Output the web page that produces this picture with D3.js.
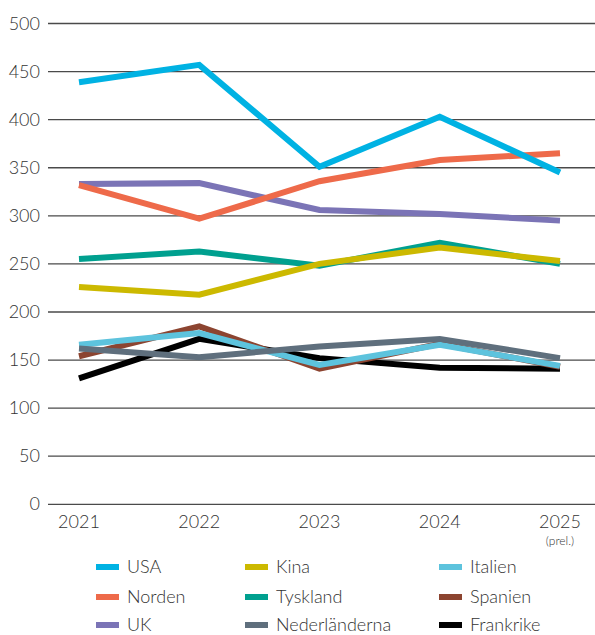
<!DOCTYPE html>
<html>
<head>
<meta charset="utf-8">
<script src="https://cdn.jsdelivr.net/npm/d3@7"></script>
<style>
  body { margin: 0; background: #fff; }
  text { font-family: Lato, "Open Sans", "Liberation Sans", Arial, sans-serif; font-weight: 300; fill: #333; }
</style>
</head>
<body>
<div id="chart"></div>
<script>
// Years on the x axis
var years = ["2021", "2022", "2023", "2024", "2025"];
var yTicks = [0, 50, 100, 150, 200, 250, 300, 350, 400, 450, 500];

// Series values
var usa          = [439, 457, 351, 403, 345];
var norden       = [332, 297, 336, 358, 365];
var uk           = [333, 334, 306, 302, 295];
var kina         = [226, 218, 250, 267, 253];
var tyskland     = [255, 263, 248, 272, 250];
var nederlanderna= [162, 153, 164, 172, 152];
var italien      = [166, 178, 145, 166, 144];
var spanien      = [154, 185, 141, 167, 143];
var frankrike    = [131, 172, 152, 142, 141];

var names  = ["USA", "Norden", "UK", "Kina", "Tyskland", "Nederländerna", "Italien", "Spanien", "Frankrike"];
var values = [usa, norden, uk, kina, tyskland, nederlanderna, italien, spanien, frankrike];
var colors = ["#00b2e3", "#ee6a4a", "#7b74b6", "#ccb900", "#00a08f", "#5f6f7d", "#5dc3dd", "#8c4430", "#000000"];

// Order lines are painted in (last on top)
var drawOrder = ["Frankrike", "Spanien", "Italien", "Nederländerna", "Tyskland", "Kina", "UK", "Norden", "USA"];

var width = 595, height = 635;
var svg = d3.select("#chart").append("svg")
  .attr("width", width)
  .attr("height", height);

var x = d3.scalePoint().domain(years).range([79, 560]);
var y = d3.scaleLinear().domain([0, 500]).range([504.3, 23.5]);

// Grid lines + y labels
var grid = svg.append("g");
grid.selectAll("line").data(yTicks).enter().append("line")
  .attr("x1", 48).attr("x2", width)
  .attr("y1", d => y(d)).attr("y2", d => y(d))
  .attr("stroke", "#4a4a4a")
  .attr("stroke-width", 1.3);
grid.selectAll("text").data(yTicks).enter().append("text")
  .attr("x", 40)
  .attr("y", d => y(d) + 6)
  .attr("text-anchor", "end")
  .style("font-size", "18px")
  .text(d => d);

// Year labels
var xl = svg.append("g");
xl.selectAll("text").data(years).enter().append("text")
  .attr("x", d => x(d))
  .attr("y", 528)
  .attr("text-anchor", "middle")
  .style("font-size", "18px")
  .text(d => d);
xl.append("text")
  .attr("x", x("2025"))
  .attr("y", 545)
  .attr("text-anchor", "middle")
  .style("font-size", "12px")
  .text("(prel.)");

// Lines
var line = d3.line()
  .x((d, i) => x(years[i]))
  .y(d => y(d));

svg.append("g").selectAll("path")
  .data(drawOrder.map(n => names.indexOf(n)))
  .enter().append("path")
  .attr("d", i => line(values[i]))
  .attr("fill", "none")
  .attr("stroke", i => colors[i])
  .attr("stroke-width", 6)
  .attr("stroke-linejoin", "miter");

// Legend, 3 columns filled top to bottom
var colX = [96, 245, 439];
var rowY = [567, 597, 625];
var leg = svg.append("g").selectAll("g")
  .data(names).enter().append("g")
  .attr("transform", (d, i) => "translate(" + colX[Math.floor(i / 3)] + "," + rowY[i % 3] + ")");
leg.append("rect")
  .attr("x", 0).attr("y", -3)
  .attr("width", 23).attr("height", 6)
  .attr("fill", (d, i) => colors[i]);
leg.append("text")
  .attr("x", 31).attr("y", 6)
  .style("font-size", "18px")
  .text(d => d);
</script>
</body>
</html>
